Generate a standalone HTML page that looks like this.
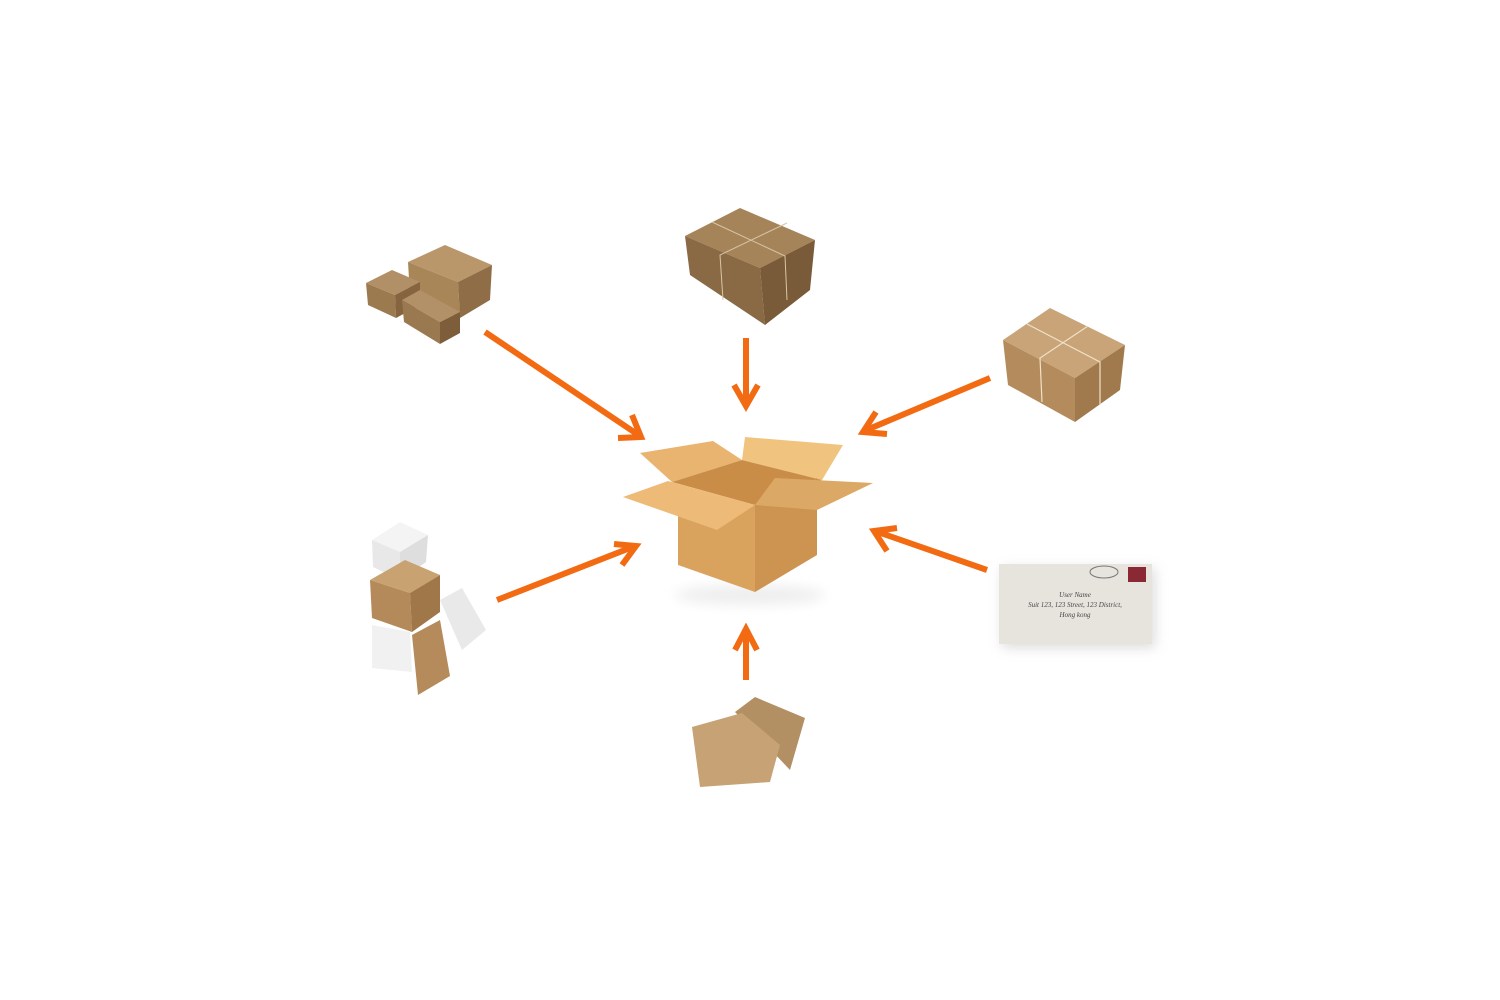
<!DOCTYPE html>
<html><head><meta charset="utf-8"><style>html,body{margin:0;padding:0;background:#fff;width:1500px;height:1000px;overflow:hidden}</style></head>
<body>
<svg width="1500" height="1000" viewBox="0 0 1500 1000" xmlns="http://www.w3.org/2000/svg">
<defs>
<filter id="b" x="-50%" y="-50%" width="200%" height="200%"><feGaussianBlur stdDeviation="6"/></filter>
<marker id="ah" markerWidth="10" markerHeight="10" refX="7" refY="5" orient="auto" markerUnits="userSpaceOnUse" viewBox="0 0 10 10"></marker>
</defs>
<!-- center box shadow -->
<ellipse cx="750" cy="595" rx="75" ry="10" fill="#eee" filter="url(#b)"/>
<!-- center box -->
<polygon points="640,453 713,441 742,460 672,482" fill="#e9b46f"/>
<polygon points="745,437 843,445 822,480 742,460" fill="#f0c47f"/>
<polygon points="672,482 742,460 822,480 755,505" fill="#c98d47"/>
<polygon points="678,500 755,505 755,592 678,565" fill="#d9a25d"/>
<polygon points="755,505 817,478 817,555 755,592" fill="#cd9350"/>
<polygon points="623,497 668,481 755,505 717,530" fill="#edbb77"/>
<polygon points="755,505 775,478 873,483 817,510" fill="#dca865"/>
<!-- arrows -->
<g stroke="#f26b12" stroke-width="6" fill="none" stroke-linecap="butt" stroke-linejoin="miter">
<line x1="485" y1="332" x2="640" y2="436"/><polyline points="618,438 641,437 632,415"/>
<line x1="746" y1="338" x2="746" y2="405"/><polyline points="734,385 746,406 758,385"/>
<line x1="990" y1="378" x2="864" y2="431"/><polyline points="876,412 863,432 887,434"/>
<line x1="497" y1="600" x2="635" y2="546"/><polyline points="614,544 636,546 622,565"/>
<line x1="987" y1="570" x2="875" y2="531"/><polyline points="887,551 874,531 897,528"/>
<line x1="746" y1="680" x2="746" y2="630"/><polyline points="735,650 746,629 757,650"/>
</g>
<!-- top box -->
<polygon points="685,236 740,208 815,240 760,268" fill="#a68459"/>
<polygon points="685,236 760,268 765,325 690,275" fill="#8a6a45"/>
<polygon points="760,268 815,240 810,290 765,325" fill="#7a5b39"/>
<g stroke="#d8c6a6" stroke-width="1" fill="none"><polyline points="712,222 785,256 787,300"/><polyline points="787,223 720,255 723,300"/></g>
<!-- top-left cluster -->
<polygon points="408,262 445,245 492,265 458,282" fill="#b9976b"/>
<polygon points="408,262 458,282 460,318 410,296" fill="#a98658"/>
<polygon points="458,282 492,265 490,300 460,318" fill="#8f6e47"/>
<polygon points="366,283 392,270 420,282 395,295" fill="#b29067"/>
<polygon points="366,283 395,295 396,318 368,305" fill="#9c7a50"/>
<polygon points="395,295 420,282 420,305 396,318" fill="#85643f"/>
<polygon points="402,300 420,290 460,312 440,322" fill="#b39168"/>
<polygon points="402,300 440,322 440,344 404,322" fill="#9a7850"/>
<polygon points="440,322 460,312 460,333 440,344" fill="#7e5e3a"/>
<!-- right box -->
<polygon points="1003,340 1050,308 1125,345 1075,378" fill="#c9a478"/>
<polygon points="1003,340 1075,378 1075,422 1008,385" fill="#b38b5c"/>
<polygon points="1075,378 1125,345 1120,390 1075,422" fill="#a07a4c"/>
<g stroke="#efe2c8" stroke-width="1.2" fill="none"><polyline points="1027,324 1100,362 1100,405"/><polyline points="1088,326 1040,358 1042,402"/></g>
<!-- left stack -->
<polygon points="372,540 400,522 428,535 400,552" fill="#f4f4f4"/>
<polygon points="372,540 400,552 400,580 373,567" fill="#e8e8e8"/>
<polygon points="400,552 428,535 426,562 400,580" fill="#dedede"/>
<polygon points="370,580 405,560 440,575 410,593" fill="#c9a272"/>
<polygon points="370,580 410,593 412,632 372,618" fill="#b48a5a"/>
<polygon points="410,593 440,575 440,612 412,632" fill="#9f7749"/>
<polygon points="440,600 462,588 486,630 462,650" fill="#e9e9e9"/>
<polygon points="372,625 410,632 412,672 372,668" fill="#f1f1f1"/>
<polygon points="412,635 440,620 450,676 418,695" fill="#b58b5c"/>
<!-- bottom envelopes -->
<polygon points="735,712 755,697 805,718 790,770" fill="#b39064"/>
<polygon points="692,727 742,713 780,745 770,782 700,787" fill="#c6a274"/>
<!-- envelope -->
<rect x="1002" y="568" width="153" height="80" fill="#bbb" filter="url(#b)" opacity=".5"/>
<rect x="999" y="564" width="153" height="80" fill="#e7e4de"/>
<rect x="1128" y="567" width="18" height="15" fill="#8a2833"/>
<ellipse cx="1104" cy="572" rx="14" ry="6" fill="none" stroke="#777" stroke-width="1"/>
<g font-family="Liberation Serif, serif" font-style="italic" font-size="7" fill="#444" text-anchor="middle">
<text x="1075" y="597">User Name</text>
<text x="1075" y="607">Suit 123, 123 Street, 123 District,</text>
<text x="1075" y="617">Hong kong</text>
</g>
</svg>
</body></html>
